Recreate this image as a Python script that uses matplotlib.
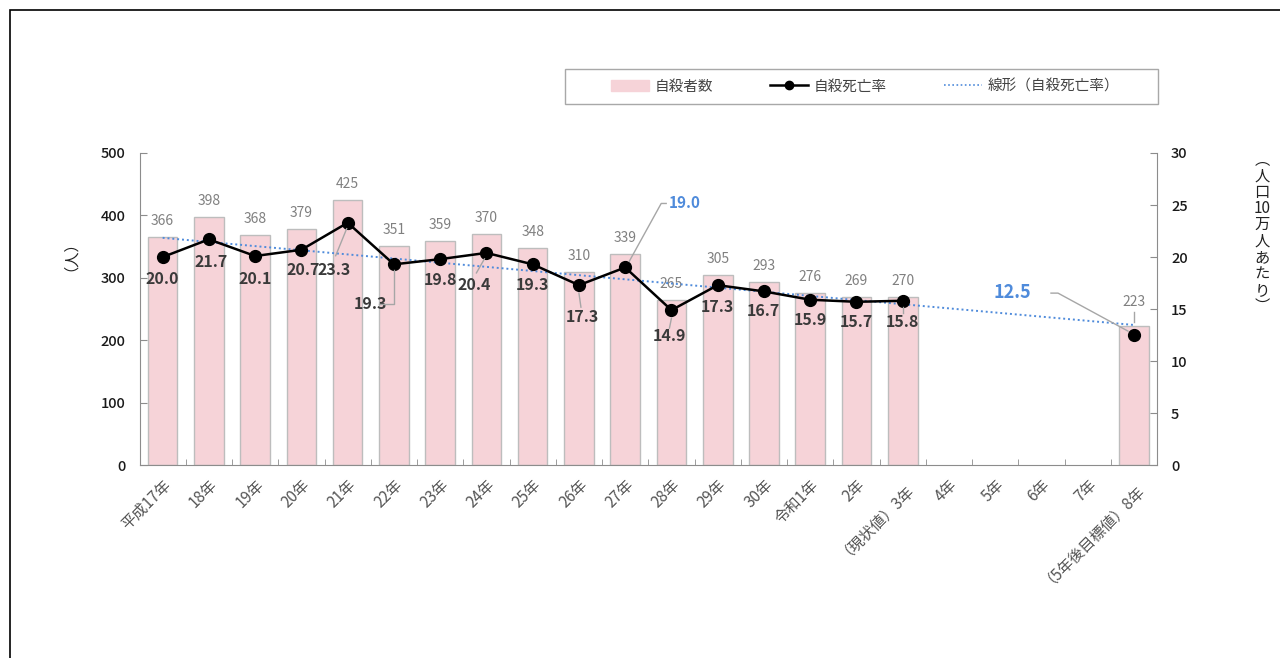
import numpy as np
import matplotlib
matplotlib.use('Agg')
import matplotlib.pyplot as plt
from matplotlib.lines import Line2D
from matplotlib.patches import Patch, Rectangle
from matplotlib.transforms import IdentityTransform

plt.rcParams['font.family'] = ['Noto Sans CJK JP', 'DejaVu Sans']

# データ
years = ['平成17年', '18年', '19年', '20年', '21年', '22年', '23年', '24年', '25年',
         '26年', '27年', '28年', '29年', '30年', '令和1年', '2年', '（現状値）3年',
         '4年', '5年', '6年', '7年', '（5年後目標値）8年']
suicides = [366, 398, 368, 379, 425, 351, 359, 370, 348, 310, 339, 265, 305, 293,
            276, 269, 270, None, None, None, None, 223]
rates = [20.0, 21.7, 20.1, 20.7, 23.3, 19.3, 19.8, 20.4, 19.3, 17.3, 19.0, 14.9,
         17.3, 16.7, 15.9, 15.7, 15.8]
target_rate = 12.5

# ラベル位置 (pixel offset, 上向き正)
rate_offsets = [(0, -22), (2, -23), (0, -23), (2, -20), (-14, -47), (-23, -40),
                (0, -21), (-12, -32), (0, -21), (3, -32), (44, 64), (-2, -26),
                (0, -22), (-1, -20), (0, -20), (0, -20), (0, -21)]

# 引き出し線 (データ点からの pixel offset の折れ線)
leader_paths = {
    4: [(-12, -33), (-1, -6)],
    5: [(-15, -40), (0, -40), (0, -6)],
    7: [(-10, -20), (-2, -6)],
    9: [(2, -22), (0, -8)],
    10: [(41, 64), (36, 64), (4, 6)],
    11: [(-2, -18), (0, -8)],
    16: [(0, -12), (0, -6)],
}

pink = '#F6D3D8'
bar_edge = '#BDBDBD'
blue = '#4F8BDB'
gray_txt = '#808080'
dark_txt = '#3A3A3A'
lead_col = '#A6A6A6'

fig = plt.figure(figsize=(12.8, 6.58), dpi=100)
ax = fig.add_axes([0.109, 0.293, 0.795, 0.4745])
ax2 = ax.twinx()

x = np.arange(len(years))
heights = [v if v is not None else 0 for v in suicides]
bars = ax.bar(x, heights, width=0.64, color=pink, edgecolor=bar_edge, linewidth=1.0)

ax.set_xlim(-0.5, len(years) - 0.5)
ax.set_ylim(0, 500)
ax.set_yticks(range(0, 501, 100))
ax2.set_ylim(0, 30)
ax2.set_yticks(range(0, 31, 5))


def leader(a, px, py, path):
    bx, by = a.transData.transform((px, py))
    xs = [bx + dx for dx, dy in path]
    ys = [by + dy for dx, dy in path]
    fig.add_artist(Line2D(xs, ys, transform=IdentityTransform(), color=lead_col, lw=1.0,
                          zorder=5))


for i, v in enumerate(suicides):
    if v is None:
        bars[i].set_visible(False)
        continue
    dy = 16
    if i == len(suicides) - 1:
        dy = 24
        leader(ax, i, v, [(0, 14), (0, 4)])
    ax.annotate(str(v), (i, v), xytext=(0, dy), textcoords='offset pixels',
                ha='center', va='center', fontsize=10, color=gray_txt)

# 線形近似 (自殺死亡率)
xr = np.arange(len(rates))
coef = np.polyfit(xr, rates, 1)
xt = np.array([0, len(years) - 1])
ax2.plot(xt, np.polyval(coef, xt), linestyle=(0, (1, 1.5)), color=blue, lw=1.4, zorder=2)

ax2.plot(xr, rates, color='black', lw=1.8, marker='o', markersize=8.5, zorder=3)
ax2.plot([len(years) - 1], [target_rate], color='black', marker='o', markersize=8.5,
         linestyle='none', zorder=3)

for i, r in enumerate(rates):
    dx, dy = rate_offsets[i]
    if i in leader_paths:
        leader(ax2, i, r, leader_paths[i])
    if i == 10:
        ax2.annotate(f'{r:.1f}', (i, r), xytext=(dx, dy), textcoords='offset pixels',
                     ha='left', va='center', fontsize=11, fontweight='bold', color=blue)
        continue
    ax2.annotate(f'{r:.1f}', (i, r), xytext=(dx, dy), textcoords='offset pixels',
                 ha='center', va='center', fontsize=11.5, fontweight='bold', color=dark_txt)

ti = len(years) - 1
ax2.annotate(f'{target_rate:.1f}', (ti, target_rate), xytext=(-122, 43),
             textcoords='offset pixels', ha='center', va='center', fontsize=13,
             fontweight='bold', color=blue)
leader(ax2, ti, target_rate, [(-83, 42), (-76, 42), (-6, 4)])

# 軸の体裁
for a in (ax, ax2):
    a.spines['top'].set_visible(False)
    for s in ('left', 'right', 'bottom'):
        a.spines[s].set_color('#8C8C8C')
ax.spines['right'].set_visible(False)
ax2.spines['left'].set_visible(False)
ax2.spines['bottom'].set_visible(False)

ax.tick_params(axis='y', direction='in', length=5, color='#8C8C8C', labelsize=10.5,
               labelcolor='#1A1A1A', pad=10)
ax2.tick_params(axis='y', direction='in', length=5, color='#8C8C8C', labelsize=10.5,
                labelcolor='#1A1A1A', pad=10)
for t in ax.get_yticklabels() + ax2.get_yticklabels():
    t.set_fontweight('medium')
ax.set_xticks(x)
ax.set_xticklabels(years, rotation=45, ha='right', rotation_mode='anchor',
                   fontsize=11, color='#555555')
ax.tick_params(axis='x', which='major', length=0, pad=8)
ax.set_xticks(np.arange(0.5, len(years) - 1, 1), minor=True)
ax.tick_params(axis='x', which='minor', direction='in', length=4, color='#8C8C8C')

fig.text(62 / 1280, 1 - 248 / 658, '（人）', rotation=90, ha='center', va='center',
         fontsize=11, color='#222222')
fig.text(1262 / 1280, 1 - 233 / 658,
         '\n'.join(['︵', '人', '口', '10', '万', '人', 'あ', 'た', 'り', '︶']),
         ha='center', va='center', fontsize=11, color='#222222', linespacing=0.95)

# 凡例
fig.patches.append(Rectangle((565 / 1280, 1 - 104 / 658), 593 / 1280, 35 / 658,
                             transform=fig.transFigure, fill=False,
                             edgecolor='#A8A8A8', lw=1.0))
handles = [Patch(facecolor=pink, edgecolor=pink),
           Line2D([], [], color='black', lw=1.8, marker='o', markersize=6),
           Line2D([], [], color=blue, lw=1.2, linestyle=(0, (1, 1.5)))]
leg = fig.legend(handles, ['自殺者数', '自殺死亡率', '線形（自殺死亡率）'],
                 loc='center', bbox_to_anchor=(865 / 1280, 1 - 86.5 / 658),
                 ncol=3, fontsize=10.5, frameon=False,
                 handlelength=2.6, handletextpad=0.4, columnspacing=3.9)
for t in leg.get_texts():
    t.set_color('#444444')

# 外枠
fig.patches.append(Rectangle((10 / 1280, -0.1), 1.2, 1 - 10 / 658 + 0.1,
                             transform=fig.transFigure, fill=False,
                             edgecolor='black', lw=1.2))

fig.savefig('out.png', dpi=100, facecolor='white')
